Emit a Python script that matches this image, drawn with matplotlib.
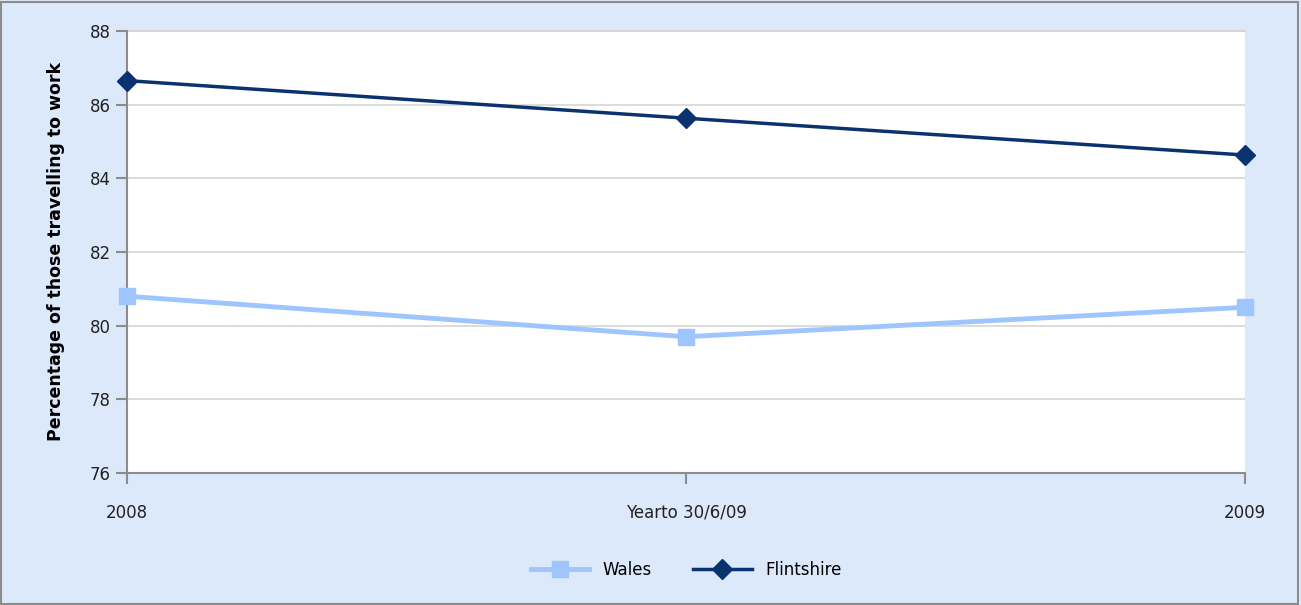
import matplotlib
matplotlib.use("Agg")
import matplotlib.pyplot as plt
from matplotlib.patches import Rectangle

# --- data ---
periods = ["2008", "Yearto 30/6/09", "2009"]
wales = [80.8, 79.7, 80.5]
flintshire = [86.65, 85.63, 84.63]

bg_color = "#DCE9FB"
wales_color = "#9EC5FE"
flint_color = "#0A326E"
grid_color = "#D6D6D6"
axis_color = "#8C8C8C"

fig = plt.figure(figsize=(13.01, 6.05), dpi=100)
fig.patch.set_facecolor(bg_color)
fig.patches.append(Rectangle((0.001, 0.002), 0.997, 0.995, transform=fig.transFigure,
                             fill=False, edgecolor="#8C8C8C", linewidth=1.5))

ax = fig.add_axes([0.0976, 0.218, 0.8594, 0.731])
ax.set_facecolor("white")

x = range(len(periods))
ax.plot(x, wales, color=wales_color, linewidth=3.5, marker="s", markersize=12,
        label="Wales", clip_on=False, zorder=3)
ax.plot(x, flintshire, color=flint_color, linewidth=2.5, marker="D", markersize=10,
        label="Flintshire", clip_on=False, zorder=4)

ax.set_xlim(0, 2)
ax.set_ylim(76, 88)
ax.set_yticks(range(76, 89, 2))
ax.set_xticks(list(x))
ax.set_xticklabels(periods)
ax.yaxis.grid(True, color=grid_color, linewidth=1.2)
ax.axhline(88, color=grid_color, linewidth=1.5, clip_on=False, zorder=1)
ax.set_axisbelow(True)

for side in ["top", "right"]:
    ax.spines[side].set_visible(False)
for side in ["left", "bottom"]:
    ax.spines[side].set_color(axis_color)
    ax.spines[side].set_linewidth(1.5)
ax.tick_params(axis="both", direction="out", length=8, width=1.5, color=axis_color,
               labelsize=12, labelcolor="#222222")
ax.tick_params(axis="x", pad=14)

ax.set_ylabel("Percentage of those travelling to work", fontsize=12.5,
              fontweight="bold", labelpad=18)

ax.legend(loc="upper center", bbox_to_anchor=(0.5, -0.165), ncol=2, frameon=False,
          fontsize=12, handlelength=3.5, columnspacing=2.5)

fig.savefig("out.png", dpi=100, facecolor=bg_color)
